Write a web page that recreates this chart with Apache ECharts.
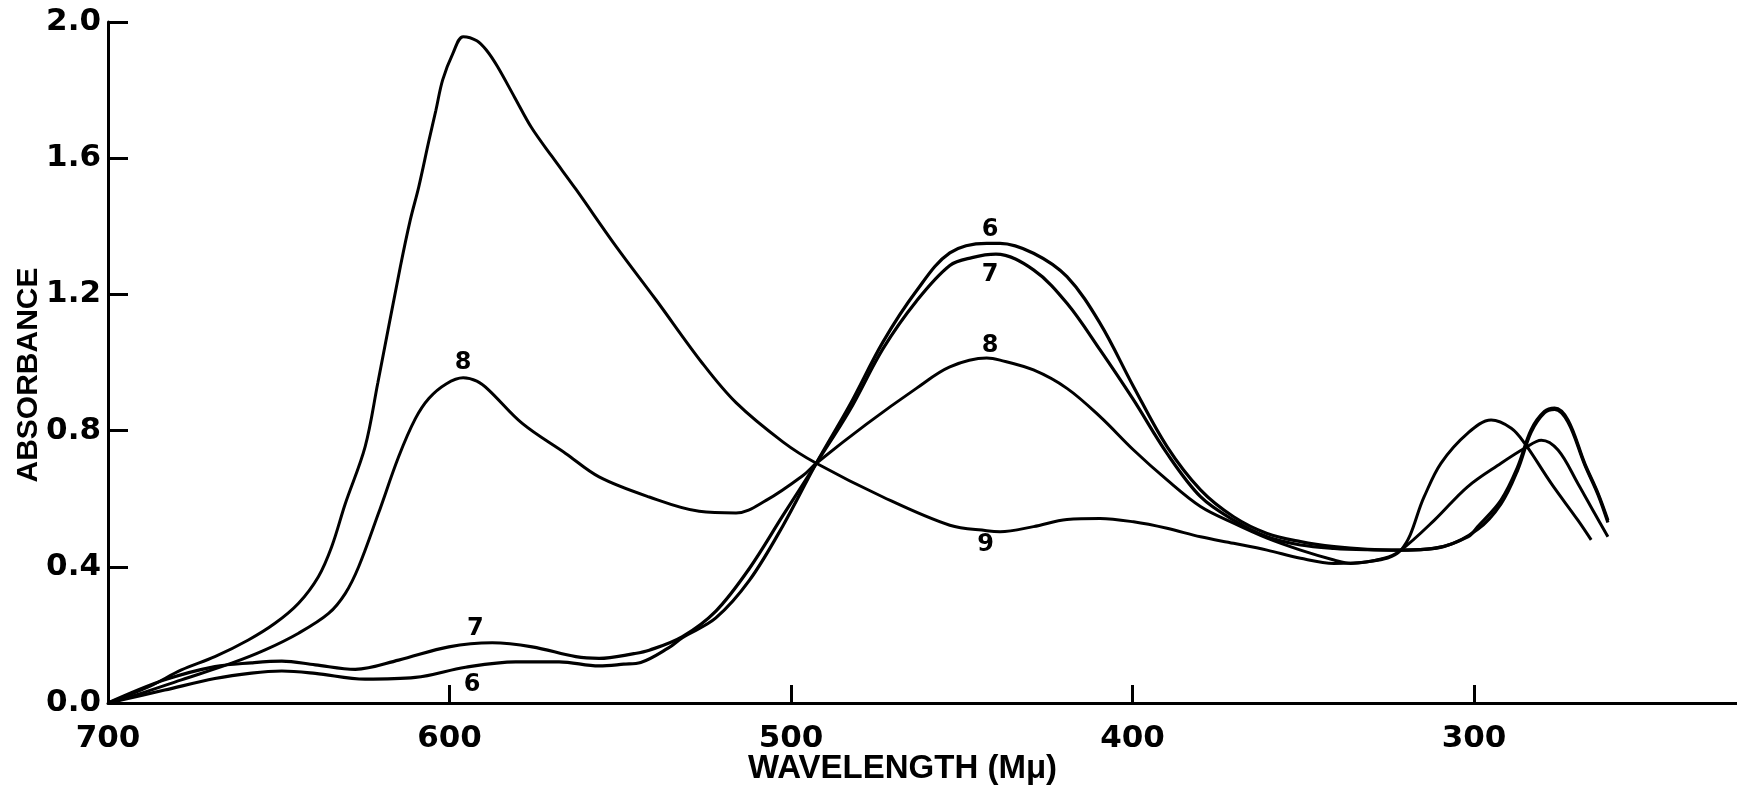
<!DOCTYPE html>
<html>
<head>
<meta charset="utf-8">
<script src="https://cdn.jsdelivr.net/npm/echarts@6/dist/echarts.min.js"></script>
<style>
html,body{margin:0;padding:0;background:#fff;}
#chart{width:1737px;height:791px;}
</style>
</head>
<body>
<div id="chart"></div>
<script>
// ---- data (wavelength in mμ, absorbance) ----
const xTickValues = [700, 600, 500, 400, 300];

const wl9 = [700,688,678.5,668.7,658.9,651.1,644.2,638.4,634.5,630.5,624.7,621,614.4,611.5,609,606,604,602,599,596,592,589,586,581,576,570,563,551.3,539.6,525.9,516.1,502.4,492.6,473.1,453.5,442.7,438.8,429,419.2,409.5,399.7,389.9,380.1,370.4,360.6,350.8,341,331.2,321.4,314.6,309.7,301.9,295,289.1,285.2,277.4,269.6,265.7];
const abs9 = [0,0.048,0.097,0.136,0.185,0.234,0.293,0.371,0.459,0.586,0.753,0.94,1.281,1.418,1.516,1.653,1.74,1.83,1.908,1.957,1.945,1.915,1.87,1.78,1.69,1.605,1.509,1.342,1.185,0.997,0.882,0.767,0.704,0.605,0.522,0.506,0.503,0.518,0.539,0.542,0.532,0.513,0.488,0.469,0.449,0.425,0.41,0.415,0.449,0.606,0.704,0.792,0.831,0.807,0.763,0.645,0.537,0.479];

const wl8 = [700,693.2,678.5,663.8,654,644.2,635.4,630.5,626.6,620.8,614.9,610,606,601,596,592,588.5,578.7,566,556.2,541.5,526.9,516.1,507.3,496.5,492.6,477.9,463.3,453.5,442.7,438.8,429,419.2,409.5,399.7,389.9,380.1,370.4,360.6,350.8,341,336.1,326.3,321.4,311.6,301.9,292.1,285.2,280.3,275.4,269.6,264.7,260.8];
const abs8 = [0,0.019,0.068,0.117,0.156,0.205,0.263,0.322,0.4,0.557,0.723,0.835,0.895,0.937,0.955,0.945,0.919,0.821,0.733,0.664,0.605,0.563,0.558,0.595,0.668,0.704,0.819,0.924,0.987,1.013,1.007,0.978,0.924,0.841,0.743,0.655,0.577,0.528,0.484,0.449,0.42,0.41,0.425,0.449,0.537,0.635,0.704,0.748,0.772,0.743,0.645,0.557,0.488];

const wl7 = [700,683.4,668.7,658,649.1,639.3,627.6,614.9,600.2,587.5,575.8,563,556.2,546,541.5,531.8,522,512.2,502.4,492.6,482.8,473.1,463.3,453.5,447,440,429,419.2,409.5,399.7,389.9,380.1,370.4,360.6,350.8,341,331.2,321.4,308.7,298.9,292.1,287.2,283.3,279.4,276.4,272.5,267.6,263.7,260.8];
const abs7 = [0,0.068,0.107,0.118,0.123,0.112,0.099,0.126,0.165,0.177,0.165,0.136,0.131,0.145,0.155,0.195,0.27,0.395,0.55,0.704,0.86,1.04,1.18,1.285,1.308,1.318,1.272,1.174,1.037,0.89,0.733,0.606,0.537,0.488,0.464,0.454,0.45,0.449,0.46,0.51,0.585,0.685,0.795,0.852,0.862,0.825,0.7,0.612,0.53];

const wl6 = [700,683.4,668.7,658,649.1,639.3,624.7,610,595.3,580.6,567.9,556.2,549,544,536,531.8,522,512.2,502.4,492.6,482.8,473.1,463.3,453.5,442.7,438.8,429,419.2,409.5,399.7,389.9,380.1,370.4,360.6,350.8,341,331.2,321.4,311.6,301.8,298.9,292.1,287.2,283.3,279.4,276.4,272.5,267.6,263.7,260.8];
const abs6 = [0,0.038,0.072,0.088,0.094,0.087,0.07,0.075,0.105,0.121,0.121,0.109,0.114,0.119,0.161,0.192,0.25,0.36,0.52,0.704,0.875,1.06,1.21,1.322,1.35,1.35,1.321,1.252,1.115,0.929,0.753,0.626,0.547,0.498,0.474,0.459,0.451,0.449,0.454,0.488,0.518,0.596,0.694,0.802,0.856,0.866,0.831,0.704,0.616,0.537];

// curve labels
const labelText = ['9','8','7','6','6','7','8','9'];
const labelWl   = [595.5, 596, 592.4, 593.4, 441.7, 441.7, 441.7, 443];
const labelAbs  = [2.005, 1.0, 0.219, 0.053, 1.389, 1.258, 1.049, 0.464];

// ---- build ----
const zip = (xs, ys) => xs.map((x, i) => [x, ys[i]]);
const lineColor = '#000';
function curve(name, xs, ys, w) {
  return {
    name: name, type: 'line', data: zip(xs, ys), showSymbol: false, smooth: 0.35,
    lineStyle: { color: lineColor, width: w }, silent: true
  };
}

const chart = echarts.init(document.getElementById('chart'), null, { renderer: 'canvas' });
chart.setOption({
  animation: false,
  backgroundColor: '#ffffff',
  grid: { left: 108, right: 0, top: 22, bottom: 88, containLabel: false, outerBoundsMode: 'none' },
  xAxis: {
    type: 'value', inverse: true, min: 223, max: 700,
    name: 'WAVELENGTH (M\u03bc)', nameLocation: 'middle', nameGap: 49, nameMoveOverlap: false,
    nameTextStyle: { fontFamily: 'Liberation Sans', fontWeight: 'bold', fontSize: 33, color: '#000', padding: [0, 40, 0, 0] },
    axisLine: { show: true, onZero: false, lineStyle: { color: '#000', width: 3 } },
    axisTick: { show: true, inside: true, length: 18, customValues: xTickValues, lineStyle: { color: '#000', width: 3 } },
    axisLabel: { customValues: xTickValues, fontFamily: 'DejaVu Sans', fontWeight: 'bold', fontSize: 31, color: '#000', margin: 20 },
    splitLine: { show: false }
  },
  yAxis: {
    type: 'value', min: 0, max: 2, interval: 0.4,
    name: 'ABSORBANCE', nameLocation: 'middle', nameGap: 64, nameRotate: 90, nameMoveOverlap: false,
    nameTextStyle: { fontFamily: 'Liberation Sans', fontWeight: 'bold', fontSize: 30, color: '#000', padding: [0, 25, 0, 0] },
    axisLine: { show: true, lineStyle: { color: '#000', width: 3 } },
    axisTick: { show: true, inside: true, length: 20, lineStyle: { color: '#000', width: 3 } },
    axisLabel: { formatter: v => v.toFixed(1), fontFamily: 'DejaVu Sans', fontWeight: 'bold', fontSize: 31, color: '#000', margin: 7 },
    splitLine: { show: false }
  },
  series: [
    curve('9', wl9, abs9, 3),
    curve('8', wl8, abs8, 3),
    curve('7', wl7, abs7, 3.2),
    curve('6', wl6, abs6, 3.2),
    {
      type: 'scatter', silent: true, symbol: 'circle', symbolSize: 1,
      itemStyle: { color: 'rgba(0,0,0,0)', opacity: 1 },
      data: labelWl.map((x, i) => [x, labelAbs[i], labelText[i]]),
      label: { show: true, position: 'inside', formatter: p => p.value[2],
               fontFamily: 'DejaVu Sans', fontWeight: 'bold', fontSize: 24, color: '#000',
               textBorderWidth: 0, opacity: 1 }
    }
  ]
});
</script>
</body>
</html>
